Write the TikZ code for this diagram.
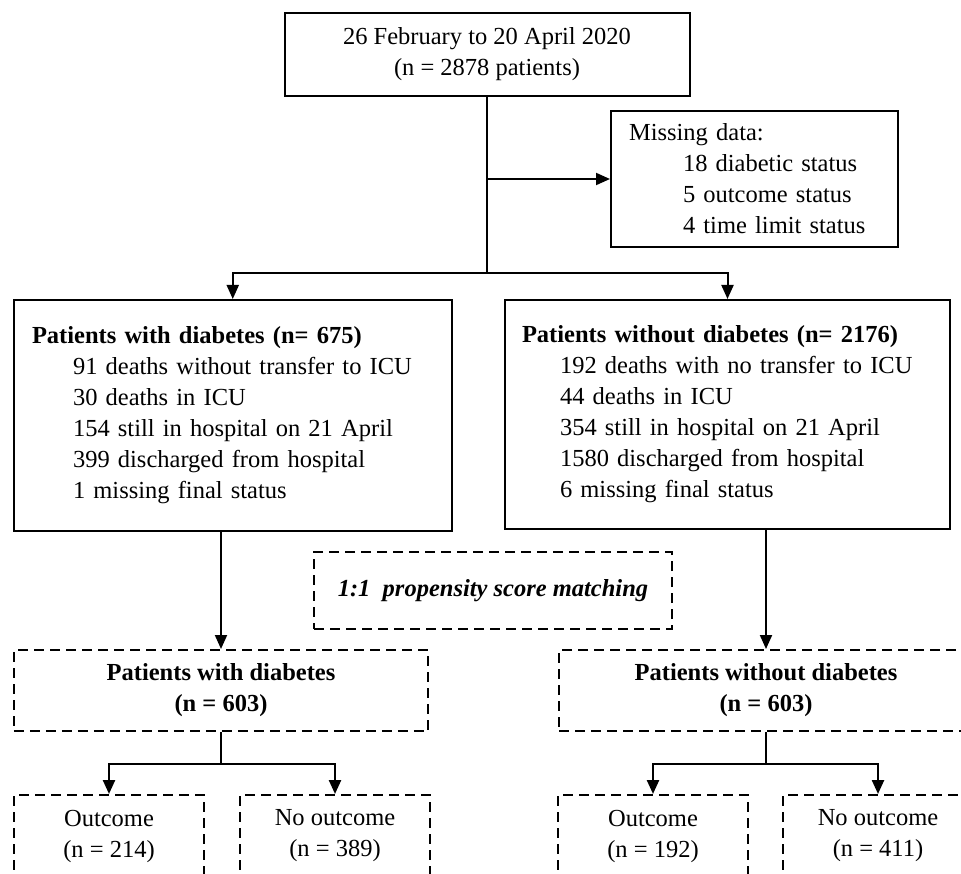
\documentclass[tikz,border=0pt]{standalone}
\usepackage{fontspec}
\setmainfont{Liberation Serif}
\usetikzlibrary{arrows.meta}

\begin{document}
\begin{tikzpicture}[x=1pt, y=-1pt, line join=miter,
	>={Triangle[length=14pt,width=12pt]},
	every node/.style={font=\fontsize{24.5}{31}\selectfont},
	solidbox/.style={draw, line width=2pt, inner sep=0pt},
	dashbox/.style={draw, line width=2pt, dash pattern=on 10pt off 6pt, inner sep=0pt, align=center},
	link/.style={line width=2pt},
	forklink/.style={line width=2.4pt}]
	\useasboundingbox (0,0) rectangle (961,874);
	\clip (0,0) rectangle (961,874);
	% top part
	\node[solidbox, minimum width=405pt, minimum height=83pt, align=center] (start) at (487,54.5)
		{26 February to 20 April 2020\\(n = 2878 patients)};
	\node[solidbox, minimum width=287pt, minimum height=136pt, text width=251pt, align=left] (missing) at (754.5,179)
		{Missing data:\\\hspace*{54pt}18 diabetic status\\\hspace*{54pt}5 outcome status\\\hspace*{54pt}4 time limit status};
	\node[solidbox, minimum width=438.5pt, minimum height=231pt, text width=401.5pt, align=left] (withdb) at (232.75,415.5)
		{\textbf{Patients with diabetes (n= 675)}\\
		\hspace*{41pt}91 deaths without transfer to ICU\\
		\hspace*{41pt}30 deaths in ICU\\
		\hspace*{41pt}154 still in hospital on 21 April\\
		\hspace*{41pt}399 discharged from hospital\\
		\hspace*{41pt}1 missing final status};
	\node[solidbox, minimum width=445pt, minimum height=229pt, text width=411pt, align=left] (withoutdb) at (727.5,414.5)
		{\textbf{Patients without diabetes (n= 2176)}\\
		\hspace*{38pt}192 deaths with no transfer to ICU\\
		\hspace*{38pt}44 deaths in ICU\\
		\hspace*{38pt}354 still in hospital on 21 April\\
		\hspace*{38pt}1580 discharged from hospital\\
		\hspace*{38pt}6 missing final status};
	\path (start.south) ++(0,176) coordinate (fork);
	\draw[link] (start.south) -- (fork);
	\draw[link,->] (start.south |- missing.west) -- (missing.west);
	\draw[link,->] (fork) -| (withdb.north);
	\draw[link,->] (fork) -| (withoutdb.north);
	% matching
	\node[dashbox, minimum width=358pt, minimum height=77pt] (psm) at (493,590.5)
		{\bfseries\itshape 1:1\ \ propensity score matching};
	\node[dashbox, minimum width=414.5pt, minimum height=81pt] (matchdb) at (221,690.5)
		{\textbf{Patients with diabetes}\\\textbf{(n = 603)}};
	\node[dashbox, minimum width=414pt, minimum height=81pt] (matchnodb) at (766,690.5)
		{\textbf{Patients without diabetes}\\\textbf{(n = 603)}};
	\draw[link,->] (matchdb.north |- withdb.south) -- (matchdb.north);
	\draw[link,->] (matchnodb.north |- withoutdb.south) -- (matchnodb.north);
	% outcomes
	\node[dashbox, minimum width=190.5pt, minimum height=82pt] (outdb) at (109,836) {Outcome\\(n = 214)};
	\node[dashbox, minimum width=190.5pt, minimum height=82pt] (nooutdb) at (335,836) {No outcome\\(n = 389)};
	\node[dashbox, minimum width=190.5pt, minimum height=82pt] (outnodb) at (653,836) {Outcome\\(n = 192)};
	\node[dashbox, minimum width=190.5pt, minimum height=82pt] (nooutnodb) at (878,836) {No outcome\\(n = 411)};
	\path (matchdb.south) ++(0,32) coordinate (lfork);
	\path (matchnodb.south) ++(0,32) coordinate (rfork);
	\draw[link] (matchdb.south) -- (lfork);
	\draw[link] (matchnodb.south) -- (rfork);
	\draw[forklink,->] (lfork) -| (outdb.north);
	\draw[forklink,->] (lfork) -| (nooutdb.north);
	\draw[forklink,->] (rfork) -| (outnodb.north);
	\draw[forklink,->] (rfork) -| (nooutnodb.north);
\end{tikzpicture}
\end{document}
